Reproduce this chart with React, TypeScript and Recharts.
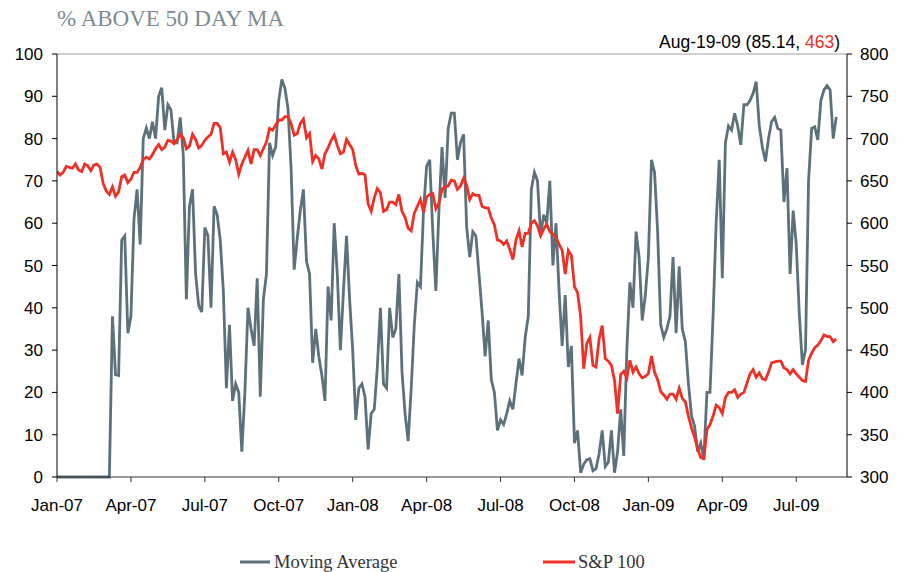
import { LineChart, XAxis, YAxis, Line, ReferenceLine } from 'recharts';

// sampling step of both series, in months since Jan-07
const STEP = 0.125;

const TICK_LABELS = ['Jan-07', 'Apr-07', 'Jul-07', 'Oct-07', 'Jan-08', 'Apr-08', 'Jul-08', 'Oct-08', 'Jan-09', 'Apr-09', 'Jul-09'];
const LEFT_TICKS = [0, 10, 20, 30, 40, 50, 60, 70, 80, 90, 100];
const RIGHT_TICKS = [300, 350, 400, 450, 500, 550, 600, 650, 700, 750, 800];

// % of stocks above 50 day moving average
const MA = [
  0, 0, 0, 0, 0, 0, 0, 0, 0, 0,
  0, 0, 0, 0, 0, 0, 0, 0, 38, 24.2,
  24, 56, 57, 34, 38, 61, 68, 55, 80, 82.5,
  80, 84, 80, 90, 92, 82, 88, 86.8, 79, 79,
  85, 76, 42, 64, 68, 48, 40.5, 39, 59, 57,
  40, 64, 62, 56, 44, 21, 36, 18, 22, 20,
  6, 20, 40, 35, 31, 47, 19, 42, 48, 79,
  76, 78, 89, 94, 91.9, 87, 73, 49, 56.5, 63,
  68, 51, 48, 27, 35, 28.5, 24, 18, 45, 37,
  60, 48, 30, 44, 57, 42, 30, 13.5, 21, 22,
  19, 6.5, 15, 16, 26, 40, 22, 21, 40, 33,
  35, 48, 25, 15, 8.5, 21, 36, 46, 45, 63,
  73.5, 75, 58, 44, 63, 78, 66, 82.4, 86, 86,
  75, 79, 81, 59, 52, 58, 57, 48, 39, 28.5,
  37, 23, 20, 11, 13.5, 12.4, 15, 18, 16, 22,
  28, 24, 33, 38, 68, 72, 70, 57, 62, 60,
  70, 50, 60, 44, 31, 43, 26, 31, 8, 11,
  1, 3, 4.1, 4.3, 1.5, 2, 5.5, 11, 2.5, 3.5,
  11, 1, 6, 16, 5, 30, 46, 40, 58, 52,
  37, 43, 52, 75, 72, 58, 36, 33, 35, 38,
  52, 34, 49.8, 35, 32, 22, 14.5, 12, 6, 8,
  4, 20, 20, 38, 60, 75, 47, 79, 83, 82,
  86, 83, 78.5, 88, 88, 89, 90.7, 93.5, 83, 78,
  74.6, 80, 84, 85, 82.4, 82, 65, 73, 48, 63,
  55, 38.5, 26.5, 30, 70, 82.4, 82.8, 79.7, 89, 91.5,
  92.5, 91.5, 80, 85.14,
];

// S&P 100 index level
const SP = [
  661, 657, 660, 667, 666, 665, 670, 663, 661, 670,
  668, 662, 669, 670, 666, 647, 638, 634, 643, 632,
  637, 655, 657, 648, 652, 660, 660, 666, 675, 678,
  676, 681, 688, 693, 687, 690, 698, 697, 694, 699,
  705, 701, 688, 691, 705, 699, 689, 692, 698, 702,
  705, 718, 718, 713, 682, 684, 672, 684, 675, 658,
  670, 678, 686, 670, 687, 687, 680, 688, 696, 712,
  710, 716, 722, 722, 726, 726, 718, 704, 706, 718,
  723, 701, 706, 673, 680, 676, 664, 682, 689, 698,
  704, 692, 682, 684, 699, 693, 687, 668, 658, 659,
  657, 623, 614, 630, 641, 636, 614, 616, 625, 625,
  622, 634, 614, 607, 594, 591, 612, 620, 628, 613,
  631, 634, 635, 617, 624, 640, 643, 644, 651, 650,
  640, 644, 653, 645, 628, 635, 633, 633, 620, 618,
  618, 606, 598, 580, 579, 575, 579, 569, 557, 580,
  591, 572, 588, 588, 600, 603, 597, 585, 593, 599,
  590, 587, 583, 575, 568, 540, 568, 562, 525, 518,
  490, 428, 458, 465, 432, 430, 463, 479, 440, 437,
  432, 414, 375, 421, 425, 417, 438, 424, 430, 422,
  417, 419, 422, 443, 424, 415, 401, 397, 392, 398,
  398, 392, 405, 393, 389, 372, 358, 347, 333, 323,
  322, 356, 362, 372, 385, 382, 375, 394, 400, 400,
  403, 394, 398, 400, 411, 422, 427, 418, 423, 416,
  415, 424, 435, 436, 437, 437, 429, 427, 422, 427,
  422, 418, 414, 413, 438, 446, 453, 456, 461, 468,
  466, 466, 460, 463,
];

const GRAY = '#5d717b';
const RED = '#ef3026';
const SANS = '"Liberation Sans", Arial, sans-serif';
const SERIF = '"Liberation Serif", "Times New Roman", serif';

const data = MA.map((v, i) => ({ t: i * STEP, ma: v, sp: SP[i] }));

const App = () => {
  const tickStyle = { fontSize: 17, fill: '#000', fontFamily: SANS };

  return (
    <div style={{ position: 'absolute', left: 0, top: 0, width: 915, height: 572, background: '#fff', overflow: 'hidden' }}>
      <LineChart width={915} height={572} data={data} margin={{ top: 54, right: 8, left: 7, bottom: 65 }}>
        <XAxis
          type="number"
          dataKey="t"
          domain={[0, 32.06]}
          ticks={TICK_LABELS.map((_, i) => i * 3)}
          tickFormatter={(v) => TICK_LABELS[Math.round(v / 3)]}
          interval={0}
          height={30}
          tickSize={5}
          tickMargin={17}
          stroke="#333"
          tick={tickStyle}
          allowDataOverflow
        />
        <YAxis
          yAxisId="left"
          domain={[0, 100]}
          ticks={LEFT_TICKS}
          width={50}
          tickSize={5}
          tickMargin={9}
          stroke="#000"
          tick={tickStyle}
          interval={0}
        />
        <YAxis
          yAxisId="right"
          orientation="right"
          domain={[300, 800]}
          ticks={RIGHT_TICKS}
          width={60}
          tickSize={5}
          tickMargin={8}
          stroke="#000"
          tick={{ ...tickStyle, textAnchor: 'start' }}
          interval={0}
        />
        {/* thin border at top of plot */}
        <ReferenceLine yAxisId="left" y={100} stroke="#a0a0a0" strokeWidth={1} />
        <Line
          yAxisId="left"
          type="linear"
          dataKey="ma"
          stroke={GRAY}
          strokeWidth={2.8}
          dot={false}
          isAnimationActive={false}
        />
        <Line
          yAxisId="right"
          type="linear"
          dataKey="sp"
          stroke={RED}
          strokeWidth={2.8}
          dot={false}
          isAnimationActive={false}
        />
      </LineChart>

      {/* title, last value note and legend */}
      <svg width={915} height={572} style={{ position: 'absolute', left: 0, top: 0, pointerEvents: 'none' }}>
        <text x={57} y={26} fontFamily={SERIF} fontSize={23} fill="#7d8a93">% ABOVE 50 DAY MA</text>
        <text x={840} y={48} textAnchor="end" fontFamily={SANS} fontSize={17.5} fill="#000">
          Aug-19-09 (85.14, <tspan fill={RED}>463</tspan>)
        </text>
        <line x1={240} y1={562} x2={270} y2={562} stroke={GRAY} strokeWidth={3} />
        <text x={274} y={568} fontFamily={SERIF} fontSize={18.5} fill="#333">Moving Average</text>
        <line x1={543} y1={562} x2={575} y2={562} stroke={RED} strokeWidth={3} />
        <text x={578} y={568} fontFamily={SERIF} fontSize={18.5} fill="#333">S&amp;P 100</text>
      </svg>
    </div>
  );
};

export default App;
